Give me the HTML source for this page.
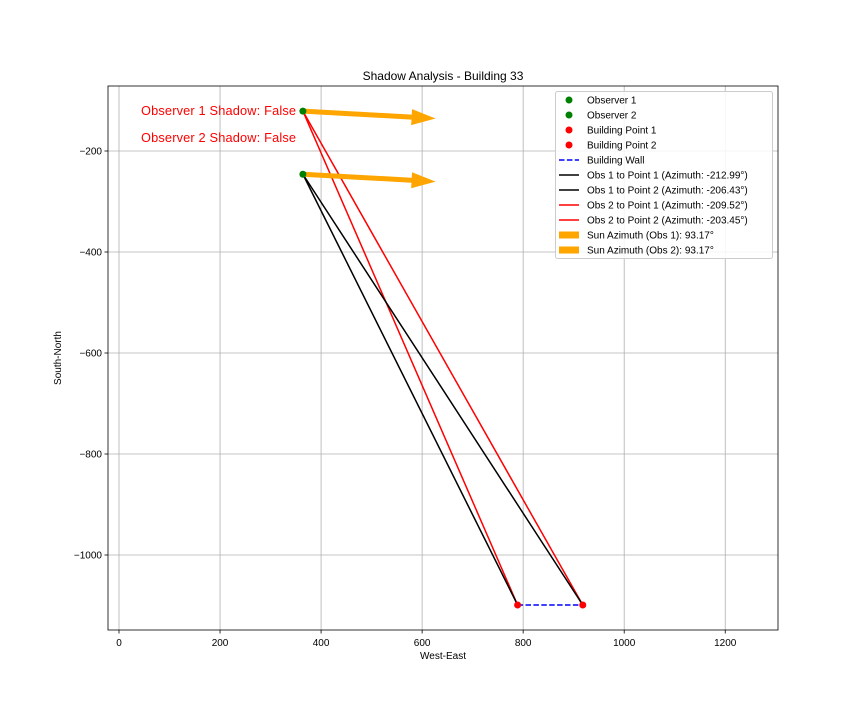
<!DOCTYPE html>
<html><head><meta charset="utf-8"><style>
body{margin:0;background:#fff;}
svg text{font-family:"Liberation Sans","DejaVu Sans",sans-serif;}
</style></head><body>
<svg id="chart" width="864" height="720" xmlns="http://www.w3.org/2000/svg"></svg>
<script>
const xTicks=[0,200,400,600,800,1000,1200];
const yTicks=[-200,-400,-600,-800,-1000];
const observerNames=["Observer 1","Observer 2"];
const observerX=[364,364];
const observerY=[-121,-246];
const buildingX=[789,918];
const buildingY=[-1099,-1099];
const sunAzimuth=[93.17,93.17];
const sunLength=[263,263];
const shadowLabels=["Observer 1 Shadow: False","Observer 2 Shadow: False"];
const legendLabels=["Observer 1","Observer 2","Building Point 1","Building Point 2","Building Wall","Obs 1 to Point 1 (Azimuth: -212.99°)","Obs 1 to Point 2 (Azimuth: -206.43°)","Obs 2 to Point 1 (Azimuth: -209.52°)","Obs 2 to Point 2 (Azimuth: -203.45°)","Sun Azimuth (Obs 1): 93.17°","Sun Azimuth (Obs 2): 93.17°"];
const legendKinds=["dot-g","dot-g","dot-r","dot-r","dash","line-k","line-k","line-r","line-r","bar","bar"];

const L=108,R=778,T=86,B=630;
const sx=v=>119+v*0.5052;
const sy=v=>151+(-200-v)*0.505;
const svg=document.getElementById('chart');
const NS="http://www.w3.org/2000/svg";
function mk(tag,attrs,parent){const e=document.createElementNS(NS,tag);for(const k in attrs)e.setAttribute(k,attrs[k]);(parent||svg).appendChild(e);return e;}

let e;
e=mk('text',{x:443,y:80,'font-size':12,'text-anchor':'middle'});e.textContent="Shadow Analysis - Building 33";

xTicks.forEach(v=>{const x=sx(v);
 e=mk('line',{x1:x,x2:x,y1:T,y2:B,stroke:'#b0b0b0','stroke-width':0.8});
 mk('line',{x1:x,x2:x,y1:B,y2:B+3.5,stroke:'#000','stroke-width':0.8});
 e=mk('text',{x:x,y:B+16,'font-size':10,'text-anchor':'middle'});e.textContent=String(v);
 });
yTicks.forEach(v=>{const y=sy(v);
 e=mk('line',{x1:L,x2:R,y1:y,y2:y,stroke:'#b0b0b0','stroke-width':0.8});
 mk('line',{x1:L-3.5,x2:L,y1:y,y2:y,stroke:'#000','stroke-width':0.8});
 e=mk('text',{x:L-6,y:y+3.5,'font-size':10,'text-anchor':'end'});e.textContent=String(v).replace('-','−');
 });
e=mk('text',{x:443,y:659,'font-size':10,'text-anchor':'middle'});e.textContent="West-East";

e=mk('text',{x:61,y:358,'font-size':10,'text-anchor':'middle',transform:'rotate(-90 61 358)'});e.textContent="South-North";


e=mk('line',{x1:sx(buildingX[0]),y1:sy(buildingY[0]),x2:sx(buildingX[1]),y2:sy(buildingY[1]),stroke:'#0000ff','stroke-width':1.5,'stroke-dasharray':'5.5,2.4'});

const lineColors=['red','black'];
for(let o=0;o<2;o++)for(let b=0;b<2;b++){
 e=mk('line',{x1:sx(observerX[o]),y1:sy(observerY[o]),x2:sx(buildingX[b]),y2:sy(buildingY[b]),stroke:lineColors[o],'stroke-width':1.5});
 }
for(let o=0;o<2;o++){
 const a=sunAzimuth[o]*Math.PI/180;
 const x0=sx(observerX[o]),y0=sy(observerY[o]);
 const x1=sx(observerX[o]+sunLength[o]*Math.sin(a)),y1=sy(observerY[o]+sunLength[o]*Math.cos(a));
 const ang=Math.atan2(y1-y0,x1-x0)*180/Math.PI;
 const len=Math.hypot(x1-x0,y1-y0);
 e=mk('polygon',{points:`0,-2.5 ${len-24},-2.5 ${len-24},-8 ${len},0 ${len-24},8 ${len-24},2.5 0,2.5`,fill:'orange',transform:`translate(${x0},${y0}) rotate(${ang})`});
 }
for(let o=0;o<2;o++){e=mk('circle',{cx:sx(observerX[o]),cy:sy(observerY[o]),r:3.5,fill:'green'});
 }
for(let b=0;b<2;b++){e=mk('circle',{cx:sx(buildingX[b]),cy:sy(buildingY[b]),r:3.5,fill:'red'});
 }
shadowLabels.forEach((s,i)=>{e=mk('text',{x:141,y:115+i*27,'font-size':12.8,fill:'red',textLength:155});e.textContent=s;
 });
e=mk('rect',{x:L,y:T,width:R-L,height:B-T,fill:'none',stroke:'#000','stroke-width':0.8});

const lg=mk('g',{});

mk('rect',{x:555.5,y:91.5,width:217,height:167,rx:2,fill:'#fff','fill-opacity':0.85,stroke:'#ccc'},lg);
legendLabels.forEach((s,i)=>{const y=100+i*15,k=legendKinds[i];
 if(k==='dot-g'||k==='dot-r')mk('circle',{cx:569,cy:y,r:3.5,fill:k==='dot-g'?'green':'red'},lg);
 else if(k==='dash')mk('line',{x1:559,x2:579,y1:y,y2:y,stroke:'blue','stroke-width':1.5,'stroke-dasharray':'5.5,2.4'},lg);
 else if(k==='bar')mk('rect',{x:559,y:y-3.5,width:20,height:7,fill:'orange'},lg);
 else mk('line',{x1:559,x2:579,y1:y,y2:y,stroke:k==='line-k'?'black':'red','stroke-width':1.5},lg);
 e=mk('text',{x:587,y:y+3.5,'font-size':10},lg);e.textContent=s;
 });
</script>
</body></html>
